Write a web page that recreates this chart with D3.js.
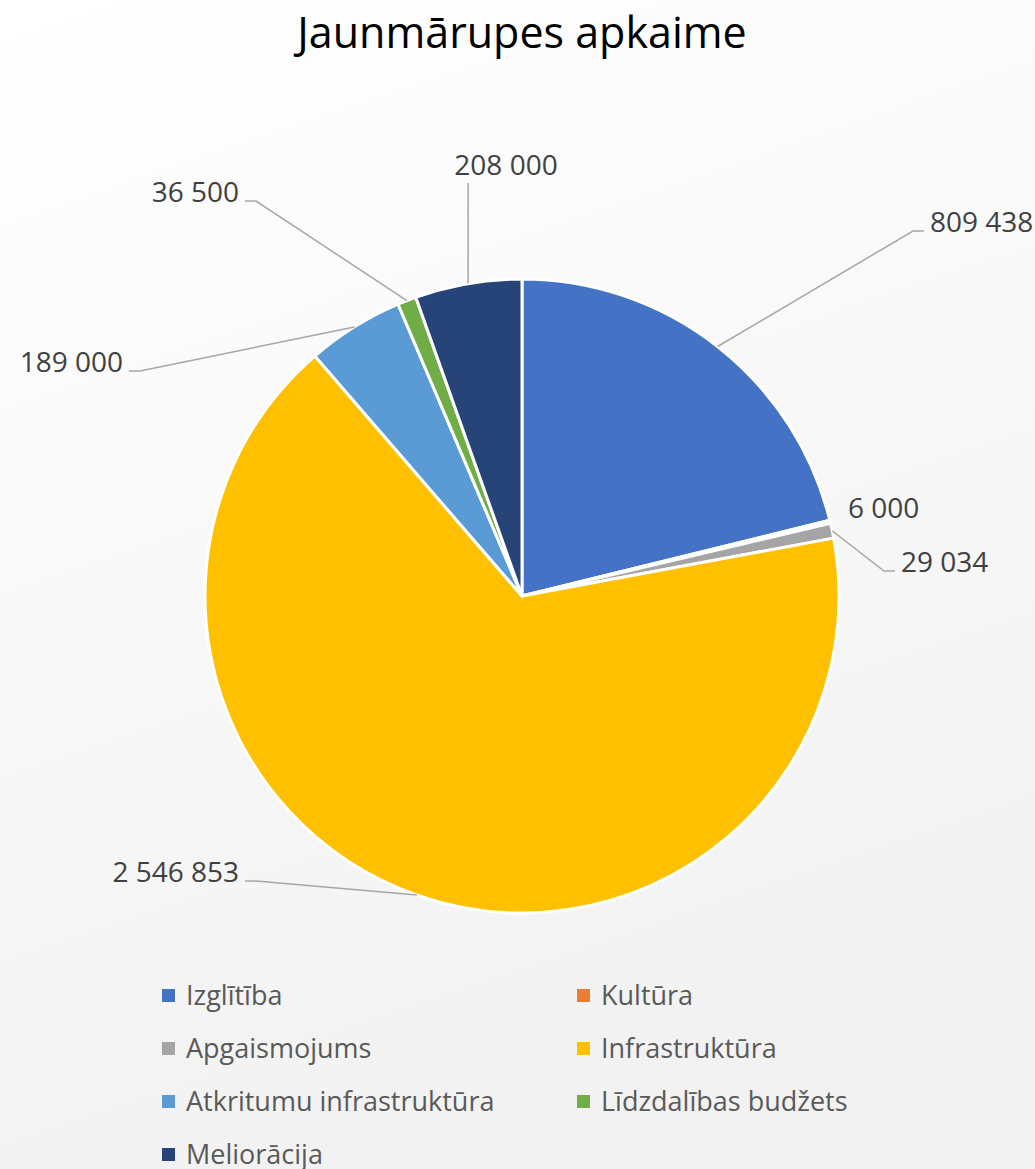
<!DOCTYPE html>
<html>
<head>
<meta charset="utf-8">
<script src="https://cdn.jsdelivr.net/npm/d3@7"></script>
<style>
  body { margin: 0; }
  svg { display: block; font-family: "Open Sans", sans-serif; }
</style>
</head>
<body>
<svg width="1035" height="1169"></svg>
<script>
const categories = ["Izglītība", "Kultūra", "Apgaismojums", "Infrastruktūra",
                    "Atkritumu infrastruktūra", "Līdzdalības budžets", "Meliorācija"];
const values = [809438, 6000, 29034, 2546853, 189000, 36500, 208000];
const colors = ["#4472C4", "#ED7D31", "#A5A5A5", "#FFC000", "#5B9BD5", "#70AD47", "#264478"];
const title = "Jaunmārupes apkaime";

// where excel put each data label, relative to the pie centre
const labelSpots = [
    { dx: 408, dy: -364, anchor: "start", leader: true },
    { dx: 326, dy: -78, anchor: "start", leader: false },
    { dx: 379, dy: -24, anchor: "start", leader: true },
    { dx: -283, dy: 286, anchor: "end", leader: true },
    { dx: -399, dy: -224, anchor: "end", leader: true },
    { dx: -283, dy: -394, anchor: "end", leader: true },
    { dx: -16, dy: -421, anchor: "middle", leader: true }
];

const svg = d3.select("svg");
const W = 1035, cx = 522, cy = 596, R = 317;

const defs = svg.append("defs");
const grad = defs.append("linearGradient").attr("id", "bg")
    .attr("x1", 0).attr("y1", 0).attr("x2", 0.3).attr("y2", 1);
grad.append("stop").attr("offset", "0%").attr("stop-color", "#ffffff");
grad.append("stop").attr("offset", "100%").attr("stop-color", "#f2f2f2");

svg.append("rect").attr("width", W).attr("height", 1169).attr("fill", "url(#bg)");

svg.append("text")
    .attr("x", cx).attr("y", 48)
    .attr("text-anchor", "middle")
    .attr("font-size", 43)
    .attr("fill", "#000")
    .text(title);

const fmt = v => d3.format(",")(v).replace(/,/g, " ");

const pie = d3.pie().sort(null).value(d => d.value);
const arcs = pie(categories.map((c, i) => ({ name: c, value: values[i], i })));
const arc = d3.arc().innerRadius(0).outerRadius(R);

const g = svg.append("g").attr("transform", `translate(${cx},${cy})`);

g.selectAll("path.slice")
    .data(arcs)
    .join("path")
    .attr("class", "slice")
    .attr("d", arc)
    .attr("fill", d => colors[d.data.i])
    .attr("stroke", "#fff")
    .attr("stroke-width", 3)
    .attr("stroke-linejoin", "round");

// leader lines
const leaderPath = d => {
    const spot = labelSpots[d.data.i];
    const a = (d.startAngle + d.endAngle) / 2;
    const sx = Math.sin(a) * R, sy = -Math.cos(a) * R;
    if (spot.anchor === "middle") {
        return `M${sx},${sy}L${sx},${spot.dy + 8}`;
    }
    const dir = spot.anchor === "start" ? -1 : 1;
    const ex = spot.dx + dir * 6, ey = spot.dy - 1;
    const kx = ex + dir * 11;
    return `M${sx},${sy}L${kx},${ey}L${ex},${ey}`;
};

g.selectAll("path.leader")
    .data(arcs.filter(d => labelSpots[d.data.i].leader))
    .join("path")
    .attr("class", "leader")
    .attr("d", leaderPath)
    .attr("fill", "none")
    .attr("stroke", "#a6a6a6")
    .attr("stroke-width", 1.5);

g.selectAll("text.lbl")
    .data(arcs)
    .join("text")
    .attr("class", "lbl")
    .attr("x", d => labelSpots[d.data.i].dx)
    .attr("y", d => labelSpots[d.data.i].dy)
    .attr("text-anchor", d => labelSpots[d.data.i].anchor)
    .attr("font-size", 28)
    .attr("fill", "#404040")
    .text(d => fmt(d.data.value));

// legend, two columns
const legendX = d3.scaleOrdinal().domain([0, 1]).range([162, 577]);
const legendY = d3.scalePoint().domain([0, 1, 2, 3]).range([996, 1155]);

const leg = svg.append("g").selectAll("g")
    .data(categories)
    .join("g")
    .attr("transform", (d, i) => `translate(${legendX(i % 2)},${legendY(Math.floor(i / 2))})`);

leg.append("rect")
    .attr("x", 0).attr("y", -7)
    .attr("width", 13).attr("height", 13)
    .attr("fill", (d, i) => colors[i]);

leg.append("text")
    .attr("x", 24).attr("y", 9)
    .attr("font-size", 27)
    .attr("fill", "#595959")
    .text(d => d);
</script>
</body>
</html>
